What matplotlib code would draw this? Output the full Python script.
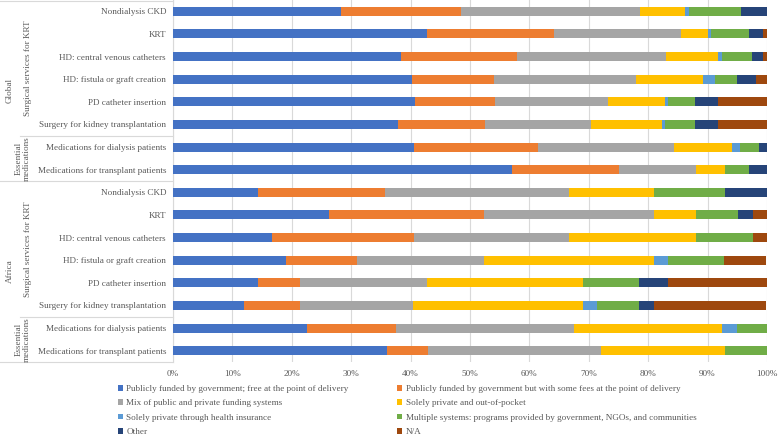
import matplotlib
matplotlib.use("Agg")
import matplotlib.pyplot as plt
from matplotlib.lines import Line2D
from matplotlib.patches import Patch
import numpy as np

plt.rcParams['font.family'] = ['Liberation Serif', 'DejaVu Serif']

categories = [
    "Nondialysis CKD", "KRT", "HD: central venous catheters", "HD: fistula or graft creation",
    "PD catheter insertion", "Surgery for kidney transplantation",
    "Medications for dialysis patients", "Medications for transplant patients",
] * 2

series_names = [
    "Publicly funded by government; free at the point of delivery",
    "Publicly funded by government but with some fees at the point of delivery",
    "Mix of public and private funding systems",
    "Solely private and out-of-pocket",
    "Solely private through health insurance",
    "Multiple systems: programs provided by government, NGOs, and communities",
    "Other",
    "N/A",
]
colors = ["#4472C4", "#ED7D31", "#A5A5A5", "#FFC000", "#5B9BD5", "#70AD47", "#264478", "#9E480E"]

# rows: Global (8) then Africa (8), top to bottom, values in %
public_free = [28.3, 42.8, 38.4, 40.2, 40.7, 37.9, 40.5, 57.0,
               14.3, 26.2, 16.7, 19.0, 14.3, 11.9, 22.5, 36.0]
public_fees = [20.2, 21.3, 19.5, 13.8, 13.5, 14.6, 20.9, 18.0,
               21.4, 26.2, 23.8, 11.9, 7.1, 9.5, 15.0, 6.9]
mixed = [30.1, 21.4, 25.1, 23.9, 19.0, 17.8, 22.9, 13.0,
         31.0, 28.6, 26.2, 21.4, 21.4, 19.0, 30.0, 29.1]
private_oop = [7.6, 4.5, 8.8, 11.4, 9.6, 12.0, 9.8, 5.0,
               14.3, 7.1, 21.4, 28.6, 26.2, 28.6, 25.0, 21.0]
private_ins = [0.7, 0.6, 0.7, 1.9, 0.6, 0.6, 1.3, 0.0,
               0.0, 0.0, 0.0, 2.4, 0.0, 2.4, 2.5, 0.0]
multiple = [8.7, 6.3, 5.0, 3.7, 4.5, 5.0, 3.3, 4.0,
            11.9, 7.1, 9.5, 9.5, 9.5, 7.1, 5.0, 7.0]
other = [4.4, 2.5, 1.9, 3.2, 3.9, 3.9, 1.3, 3.0,
         7.1, 2.4, 0.0, 0.0, 4.8, 2.4, 0.0, 0.0]
not_applicable = [0.0, 0.6, 0.6, 1.9, 8.2, 8.2, 0.0, 0.0,
                  0.0, 2.4, 2.4, 7.1, 16.7, 19.0, 0.0, 0.0]

series = [public_free, public_fees, mixed, private_oop, private_ins, multiple, other, not_applicable]

regions = ["Global", "Africa"]
groups = ["Surgical services for KRT", "Essential\nmedications"]

xticks = [0, 10, 20, 30, 40, 50, 60, 70, 80, 90, 100]
xticklabels = [f"{v}%" for v in xticks]

W, H = 778, 437
fig = plt.figure(figsize=(W / 100, H / 100), dpi=100)
ax_left, ax_right, ax_top, ax_bot = 173, 767, 0, 362
ax = fig.add_axes([ax_left / W, 1 - ax_bot / H, (ax_right - ax_left) / W, (ax_bot - ax_top) / H])

tc = "#595959"
fs = 6.6
y = np.arange(len(categories))
left = np.zeros(len(categories))
handles = []
for vals, c, name in zip(series, colors, series_names):
    vals = np.array(vals)
    ax.barh(y, vals, left=left, height=0.4, color=c, edgecolor='none', zorder=3)
    left += vals
    handles.append(Patch(facecolor=c, edgecolor='none', label=name))

ax.set_xlim(0, 100)
ax.set_ylim(len(categories) - 0.5, -0.5)
ax.set_xticks(xticks)
ax.set_xticklabels(xticklabels, fontsize=fs, color=tc)
ax.set_yticks(y)
ax.set_yticklabels(categories, fontsize=fs, color=tc)
ax.tick_params(axis='both', length=0)
ax.tick_params(axis='y', pad=5)
ax.tick_params(axis='x', pad=6)
ax.grid(axis='x', color='#D9D9D9', linewidth=0.8, zorder=0)
for s in ['top', 'right', 'bottom']:
    ax.spines[s].set_visible(False)
ax.spines['left'].set_color('#D9D9D9')
ax.spines['left'].set_linewidth(0.8)

def fx(px):
    return px / W

def fy(py):
    return 1 - py / H

lc = '#D9D9D9'
for (x0, yy) in [(0, 0.5), (0, 181), (0, 361.5), (20, 135.5), (20, 316.5)]:
    fig.add_artist(Line2D([fx(x0), fx(ax_left)], [fy(yy), fy(yy)], color=lc, linewidth=0.8))

# region and group labels
row_h = (ax_bot - ax_top) / len(categories)
for ri, region in enumerate(regions):
    r0 = ax_top + ri * 8 * row_h
    fig.text(fx(10), fy(r0 + 4 * row_h), region, rotation=90, ha='center', va='center', fontsize=fs, color=tc)
    fig.text(fx(28), fy(r0 + 3 * row_h), groups[0], rotation=90, ha='center', va='center', fontsize=fs, color=tc)
    fig.text(fx(23), fy(r0 + 7 * row_h), groups[1], rotation=90, ha='center', va='center', fontsize=fs, color=tc,
             linespacing=0.95, multialignment='center')

order = [0, 2, 4, 6, 1, 3, 5, 7]
leg = fig.legend([handles[i] for i in order], [series_names[i] for i in order], ncol=2,
                 loc='upper left', bbox_to_anchor=(fx(117.5), fy(385)), frameon=False, fontsize=fs,
                 handlelength=0.55, handleheight=0.55, handletextpad=0.4, columnspacing=5.3,
                 labelspacing=0.7, borderaxespad=0, borderpad=0)
for t in leg.get_texts():
    t.set_color(tc)

fig.savefig("out.png", dpi=100)
